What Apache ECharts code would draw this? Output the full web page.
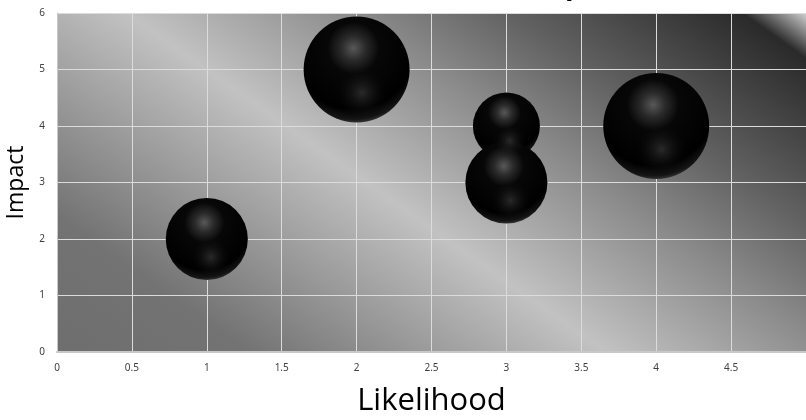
<!DOCTYPE html>
<html>
<head>
<meta charset="utf-8">
<title>Risk Map</title>
<script src="https://cdn.jsdelivr.net/npm/echarts@6/dist/echarts.min.js"></script>
<style>
    html, body { margin: 0; padding: 0; background: #fff; }
    #main { width: 806px; height: 420px; }
</style>
</head>
<body>
<div id="main"></div>
<script>
// risk data
var likelihood = [1, 2, 3, 3, 4];
var impact = [2, 5, 4, 3, 4];
var riskSize = [6, 10, 4, 6, 10];

var xTicks = [0, 0.5, 1, 1.5, 2, 2.5, 3, 3.5, 4, 4.5];
var yTicks = [0, 1, 2, 3, 4, 5, 6];

var points = [];
for (var i = 0; i < likelihood.length; i++) {
    points.push([likelihood[i], impact[i], riskSize[i]]);
}

/**
 * bubble diameter from the size value (area proportional)
 */
function bubbleSize(val) {
    return Math.sqrt(val[2]) * 33.5;
}

// diagonal grey bands behind the plot (global pixel coords)
var plotBg = new echarts.graphic.LinearGradient(57, 352, 466, -227, [
    {offset: 0, color: '#6e6e6e'},
    {offset: 0.157, color: '#737373'},
    {offset: 0.447, color: '#c2c2c2'},
    {offset: 0.635, color: '#8a8a8a'},
    {offset: 0.756, color: '#626262'},
    {offset: 0.879, color: '#3e3e3e'},
    {offset: 0.948, color: '#2a2a2a'},
    {offset: 1, color: '#cfcfcf'}
], true);

var ballFill = new echarts.graphic.RadialGradient(0.47, 0.3, 0.72, [
    {offset: 0, color: '#585858'},
    {offset: 0.16, color: '#2a2a2a'},
    {offset: 0.34, color: '#070707'},
    {offset: 0.8, color: '#000000'},
    {offset: 0.93, color: '#151515'},
    {offset: 1, color: '#444444'}
]);

var ballGlow = new echarts.graphic.RadialGradient(0.55, 0.72, 0.26, [
    {offset: 0, color: 'rgba(80,80,80,0.5)'},
    {offset: 1, color: 'rgba(0,0,0,0)'}
]);

var labelFont = {color: '#404040', fontSize: 10, fontFamily: 'Noto Sans'};

var option = {
    animation: false,
    title: {
        text: 'Risk Map',
        left: 456,
        top: -28,
        padding: 0,
        textStyle: {fontSize: 28, fontWeight: 'bold', color: '#000', fontFamily: 'Open Sans', lineHeight: 28}
    },
    grid: {
        left: 57,
        right: 0,
        top: 13,
        bottom: 68,
        show: true,
        borderWidth: 0,
        backgroundColor: plotBg,
        outerBoundsMode: 'none'
    },
    xAxis: {
        type: 'value',
        min: xTicks[0],
        max: 5,
        interval: 0.5,
        name: 'Likelihood',
        nameLocation: 'middle',
        nameGap: 34,
        nameTextStyle: {fontSize: 31, color: '#000', fontFamily: 'Open Sans'},
        axisLine: {show: true, lineStyle: {color: '#c8c8c8', width: 2}},
        axisTick: {show: false},
        axisLabel: Object.assign({margin: 11, showMaxLabel: false}, labelFont),
        splitLine: {show: true, lineStyle: {color: '#dcdcdc', width: 1}}
    },
    yAxis: {
        type: 'value',
        min: yTicks[0],
        max: yTicks[yTicks.length - 1],
        interval: 1,
        name: 'Impact',
        nameLocation: 'middle',
        nameGap: 23,
        nameTextStyle: {fontSize: 23, color: '#000', fontFamily: 'Open Sans'},
        axisLine: {show: true, lineStyle: {color: '#c8c8c8', width: 1}},
        axisTick: {show: false},
        axisLabel: Object.assign({margin: 12}, labelFont),
        splitLine: {show: true, lineStyle: {color: '#dcdcdc', width: 1}}
    },
    series: [
        {
            type: 'scatter',
            data: points,
            symbolSize: bubbleSize,
            itemStyle: {color: ballFill, opacity: 1}
        },
        {
            type: 'scatter',
            data: points,
            symbolSize: bubbleSize,
            silent: true,
            itemStyle: {color: ballGlow, opacity: 1}
        }
    ]
};

var myChart = echarts.init(document.getElementById('main'));
myChart.setOption(option);
</script>
</body>
</html>
